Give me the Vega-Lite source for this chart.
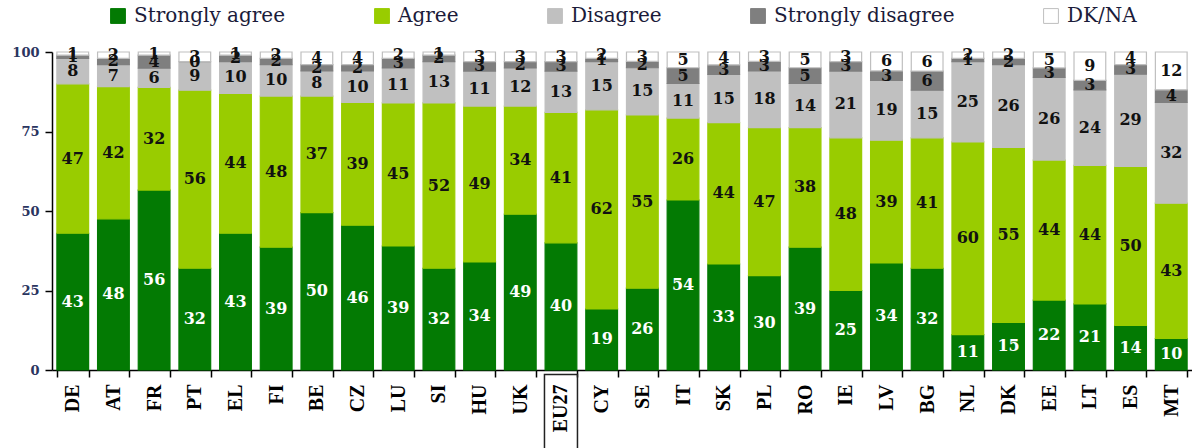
{
  "$schema": "https://vega.github.io/schema/vega-lite/v6.json",
  "width": 1140,
  "height": 318,
  "autosize": {"type": "none"},
  "padding": {"left": 52, "top": 52, "right": 0, "bottom": 78},
  "background": "white",
  "config": {"view": {"stroke": null}, "font": "DejaVu Serif"},
  "data": {"values": [
    {"country": "DE", "Strongly agree": 43, "Agree": 47, "Disagree": 8, "Strongly disagree": 1, "DK/NA": 1},
    {"country": "AT", "Strongly agree": 48, "Agree": 42, "Disagree": 7, "Strongly disagree": 2, "DK/NA": 2},
    {"country": "FR", "Strongly agree": 56, "Agree": 32, "Disagree": 6, "Strongly disagree": 4, "DK/NA": 1},
    {"country": "PT", "Strongly agree": 32, "Agree": 56, "Disagree": 9, "Strongly disagree": 0, "DK/NA": 3},
    {"country": "EL", "Strongly agree": 43, "Agree": 44, "Disagree": 10, "Strongly disagree": 2, "DK/NA": 1},
    {"country": "FI", "Strongly agree": 39, "Agree": 48, "Disagree": 10, "Strongly disagree": 2, "DK/NA": 2},
    {"country": "BE", "Strongly agree": 50, "Agree": 37, "Disagree": 8, "Strongly disagree": 2, "DK/NA": 4},
    {"country": "CZ", "Strongly agree": 46, "Agree": 39, "Disagree": 10, "Strongly disagree": 2, "DK/NA": 4},
    {"country": "LU", "Strongly agree": 39, "Agree": 45, "Disagree": 11, "Strongly disagree": 3, "DK/NA": 2},
    {"country": "SI", "Strongly agree": 32, "Agree": 52, "Disagree": 13, "Strongly disagree": 2, "DK/NA": 1},
    {"country": "HU", "Strongly agree": 34, "Agree": 49, "Disagree": 11, "Strongly disagree": 3, "DK/NA": 3},
    {"country": "UK", "Strongly agree": 49, "Agree": 34, "Disagree": 12, "Strongly disagree": 2, "DK/NA": 3},
    {"country": "EU27", "Strongly agree": 40, "Agree": 41, "Disagree": 13, "Strongly disagree": 3, "DK/NA": 3},
    {"country": "CY", "Strongly agree": 19, "Agree": 62, "Disagree": 15, "Strongly disagree": 1, "DK/NA": 2},
    {"country": "SE", "Strongly agree": 26, "Agree": 55, "Disagree": 15, "Strongly disagree": 2, "DK/NA": 3},
    {"country": "IT", "Strongly agree": 54, "Agree": 26, "Disagree": 11, "Strongly disagree": 5, "DK/NA": 5},
    {"country": "SK", "Strongly agree": 33, "Agree": 44, "Disagree": 15, "Strongly disagree": 3, "DK/NA": 4},
    {"country": "PL", "Strongly agree": 30, "Agree": 47, "Disagree": 18, "Strongly disagree": 3, "DK/NA": 3},
    {"country": "RO", "Strongly agree": 39, "Agree": 38, "Disagree": 14, "Strongly disagree": 5, "DK/NA": 5},
    {"country": "IE", "Strongly agree": 25, "Agree": 48, "Disagree": 21, "Strongly disagree": 3, "DK/NA": 3},
    {"country": "LV", "Strongly agree": 34, "Agree": 39, "Disagree": 19, "Strongly disagree": 3, "DK/NA": 6},
    {"country": "BG", "Strongly agree": 32, "Agree": 41, "Disagree": 15, "Strongly disagree": 6, "DK/NA": 6},
    {"country": "NL", "Strongly agree": 11, "Agree": 60, "Disagree": 25, "Strongly disagree": 1, "DK/NA": 2},
    {"country": "DK", "Strongly agree": 15, "Agree": 55, "Disagree": 26, "Strongly disagree": 2, "DK/NA": 2},
    {"country": "EE", "Strongly agree": 22, "Agree": 44, "Disagree": 26, "Strongly disagree": 3, "DK/NA": 5},
    {"country": "LT", "Strongly agree": 21, "Agree": 44, "Disagree": 24, "Strongly disagree": 3, "DK/NA": 9},
    {"country": "ES", "Strongly agree": 14, "Agree": 50, "Disagree": 29, "Strongly disagree": 3, "DK/NA": 4},
    {"country": "MT", "Strongly agree": 10, "Agree": 43, "Disagree": 32, "Strongly disagree": 4, "DK/NA": 12}
  ]},
  "transform": [
    {"fold": ["Strongly agree", "Agree", "Disagree", "Strongly disagree", "DK/NA"], "as": ["cat", "value"]},
    {"window": [{"op": "row_number", "as": "rank"}], "groupby": ["country"]},
    {"stack": "value", "groupby": ["country"], "sort": [{"field": "rank", "order": "ascending"}], "offset": "normalize", "as": ["y0", "y1"]}
  ],
  "encoding": {
    "x": {
      "field": "country",
      "type": "nominal",
      "sort": ["DE","AT","FR","PT","EL","FI","BE","CZ","LU","SI","HU","UK","EU27","CY","SE","IT","SK","PL","RO","IE","LV","BG","NL","DK","EE","LT","ES","MT"],
      "scale": {"paddingInner": 0.22, "paddingOuter": 0.12},
      "axis": {
        "title": null,
        "labelAngle": 270,
        "labelFont": "Liberation Serif",
        "labelFontWeight": "bold",
        "labelFontSize": 20,
        "labelColor": "black",
        "labelPadding": 7,
        "domainColor": "black",
        "domainWidth": 1.5,
        "tickColor": "black",
        "tickWidth": 1.5,
        "tickBand": "extent",
        "tickSize": 7
      }
    }
  },
  "layer": [
    {
      "mark": {"type": "bar", "strokeWidth": 1.2},
      "encoding": {
        "y": {
          "field": "y0",
          "type": "quantitative",
          "scale": {"domain": [0, 1], "nice": false},
          "axis": {
            "title": null,
            "values": [0, 0.25, 0.5, 0.75, 1],
            "labelExpr": "round(datum.value * 100)",
            "grid": false,
            "domainColor": "black",
            "domainWidth": 1.5,
            "tickColor": "black",
            "tickWidth": 1.5,
            "tickSize": 7,
            "labelFont": "DejaVu Serif",
            "labelFontWeight": "bold",
            "labelFontSize": 13,
            "labelColor": "#2a3560",
            "labelPadding": 6
          }
        },
        "y2": {"field": "y1"},
        "fill": {
          "field": "cat",
          "type": "nominal",
          "scale": {
            "domain": ["Strongly agree", "Agree", "Disagree", "Strongly disagree", "DK/NA"],
            "range": ["#037a03", "#99cc00", "#c0c0c0", "#7f7f7f", "#ffffff"]
          },
          "legend": {
            "title": null,
            "orient": "none",
            "legendX": 56,
            "legendY": -46,
            "direction": "horizontal",
            "columns": 5,
            "columnPadding": 86,
            "padding": 0,
            "symbolType": "square",
            "symbolSize": 220,
            "symbolStrokeColor": "#bfbfbf",
            "symbolStrokeWidth": 1,
            "labelFont": "DejaVu Serif",
            "labelFontSize": 20,
            "labelColor": "#1b1b3a",
            "labelOffset": 6,
            "labelLimit": 400
          }
        },
        "stroke": {
          "field": "cat",
          "type": "nominal",
          "scale": {
            "domain": ["Strongly agree", "Agree", "Disagree", "Strongly disagree", "DK/NA"],
            "range": ["#037a03", "#99cc00", "#c0c0c0", "#7f7f7f", "#bfbfbf"]
          },
          "legend": null
        }
      }
    },
    {
      "transform": [
        {"filter": "datum.country === 'EU27' && datum.cat === 'Strongly agree'"}
      ],
      "mark": {"type": "rect", "fill": null, "stroke": "#222222", "strokeWidth": 1.5, "clip": false, "width": 33},
      "encoding": {
        "y": {"datum": -0.014, "type": "quantitative"},
        "y2": {"datum": -0.26}
      }
    },
    {
      "transform": [
        {"fold": ["y0", "y1"], "as": ["edge", "pos"]},
        {"aggregate": [{"op": "mean", "field": "pos", "as": "mid"}], "groupby": ["country", "cat", "value"]},
        {"filter": "datum.cat === 'Strongly agree'"}
      ],
      "mark": {"type": "text", "font": "DejaVu Serif", "fontWeight": "bold", "fontSize": 16, "color": "white", "baseline": "middle"},
      "encoding": {
        "y": {"field": "mid", "type": "quantitative"},
        "text": {"field": "value", "type": "quantitative"}
      }
    },
    {
      "transform": [
        {"fold": ["y0", "y1"], "as": ["edge", "pos"]},
        {"aggregate": [{"op": "mean", "field": "pos", "as": "mid"}], "groupby": ["country", "cat", "value"]},
        {"filter": "datum.cat !== 'Strongly agree'"}
      ],
      "mark": {"type": "text", "font": "DejaVu Serif", "fontWeight": "bold", "fontSize": 16, "color": "#111111", "baseline": "middle"},
      "encoding": {
        "y": {"field": "mid", "type": "quantitative"},
        "text": {"field": "value", "type": "quantitative"}
      }
    }
  ]
}
